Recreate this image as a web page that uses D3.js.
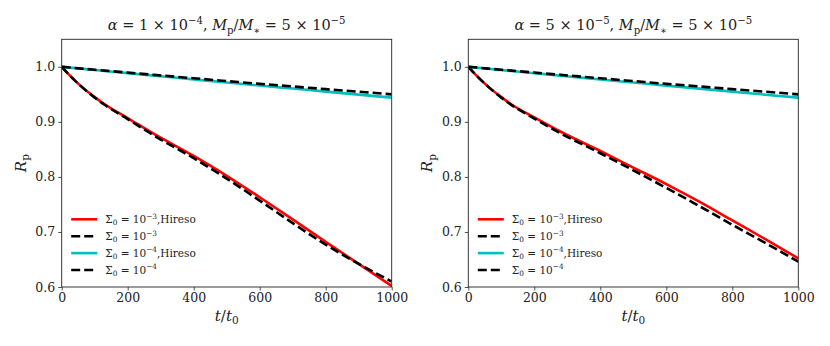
<!DOCTYPE html>
<html>
<head>
<meta charset="utf-8">
<script src="https://cdn.jsdelivr.net/npm/d3@7"></script>
<style>
  body { margin: 0; background: #fff; }
  svg text { font-family: "DejaVu Serif", "Liberation Serif", serif; fill: #222; }
</style>
</head>
<body>
<div id="chart"></div>
<script>
// shared time samples (t / t0)
let times = [0, 25, 60, 100, 130, 200, 280, 400, 500, 600, 700, 800, 900, 1000]

// left panel: alpha = 1e-4
let leftHigh = [1.0, 0.984, 0.964, 0.945, 0.932, 0.907, 0.878, 0.838, 0.802, 0.763, 0.723, 0.682, 0.642, 0.602]
let leftHighLo = [1.0, 0.984, 0.964, 0.944, 0.931, 0.905, 0.875, 0.834, 0.797, 0.757, 0.716, 0.677, 0.642, 0.610]
let leftLow = [1.0, 0.9985, 0.9965, 0.9942, 0.9925, 0.9885, 0.9840, 0.9772, 0.9716, 0.9660, 0.9605, 0.9550, 0.9495, 0.9440]
let leftLowLo = [1.0, 0.9987, 0.9968, 0.9946, 0.9931, 0.9895, 0.9854, 0.9792, 0.9741, 0.9690, 0.9643, 0.9595, 0.9548, 0.9500]

// right panel: alpha = 5e-5
let rightHigh = [1.0, 0.984, 0.964, 0.945, 0.932, 0.908, 0.882, 0.847, 0.817, 0.787, 0.755, 0.721, 0.687, 0.652]
let rightHighLo = [1.0, 0.984, 0.964, 0.944, 0.931, 0.906, 0.879, 0.843, 0.812, 0.780, 0.747, 0.713, 0.680, 0.646]
let rightLow = [1.0, 0.9985, 0.9964, 0.9941, 0.9924, 0.9884, 0.9839, 0.9771, 0.9715, 0.9659, 0.9604, 0.9549, 0.9494, 0.9440]
let rightLowLo = [1.0, 0.9987, 0.9968, 0.9946, 0.9931, 0.9895, 0.9854, 0.9792, 0.9741, 0.9690, 0.9643, 0.9595, 0.9548, 0.9500]

let xTicks = [0, 200, 400, 600, 800, 1000]
let yTicks = [0.6, 0.7, 0.8, 0.9, 1.0]

// legend entries: [exponent, suffix]
let legendLabels = [["-3", ",Hireso"], ["-3", ""], ["-4", ",Hireso"], ["-4", ""]]

let seriesStyle = [
  {color: "#ff0000", dash: null},
  {color: "#000000", dash: "9,4"},
  {color: "#00bfbf", dash: null},
  {color: "#000000", dash: "9,4"}
]

let panels = [
  {left: 61.7, alpha: ["1", "-4"], series: [leftHigh, leftHighLo, leftLow, leftLowLo]},
  {left: 468.3, alpha: ["5", "-5"], series: [rightHigh, rightHighLo, rightLow, rightLowLo]}
]

let width = 830, height = 346
let plotW = 330, plotTop = 39.3, plotBottom = 287
let plotH = plotBottom - plotTop
let serif = "'DejaVu Serif', 'Liberation Serif', serif"

let svg = d3.select("#chart").append("svg")
  .attr("width", width)
  .attr("height", height)

// small helper to write a math-ish label with tspans
// parts: [text, style ('i' italic, 'r' roman), shift]
function mathText(sel, parts, size) {
  sel.style("font-family", serif)
  parts.forEach(p => {
    let ts = sel.append("tspan").text(p[0])
    if (p[1] === "i") ts.style("font-style", "italic")
    if (p[2] === "sup") ts.attr("dy", -size * 0.42).style("font-size", (size * 0.7) + "px")
    if (p[2] === "sub") ts.attr("dy", size * 0.22).style("font-size", (size * 0.7) + "px")
    if (p[2] === "back") ts.attr("dy", size * 0.42)
    if (p[2] === "backsub") ts.attr("dy", -size * 0.22)
  })
}

panels.forEach((panel, pi) => {
  let xScale = d3.scaleLinear().domain([0, 1000]).range([0, plotW])
  let yScale = d3.scaleLinear().domain([0.6, 1.05]).range([plotH, 0])

  let g = svg.append("g").attr("transform", `translate(${panel.left},${plotTop})`)

  let line = d3.line()
    .x((d, i) => xScale(times[i]))
    .y(d => yScale(d))
    .curve(d3.curveMonotoneX)

  g.append("defs").append("clipPath").attr("id", "clip" + pi)
    .append("rect").attr("width", plotW).attr("height", plotH)

  let lines = g.append("g").attr("clip-path", `url(#clip${pi})`)
  // draw order: red, black, cyan, black
  panel.series.forEach((s, i) => {
    lines.append("path")
      .datum(s)
      .attr("d", line)
      .attr("fill", "none")
      .attr("stroke", seriesStyle[i].color)
      .attr("stroke-width", 2.6)
      .attr("stroke-dasharray", seriesStyle[i].dash)
  })

  // axes
  let xAxis = d3.axisBottom(xScale).tickValues(xTicks).tickSize(3.5).tickPadding(3).tickFormat(d3.format("d"))
  let yAxis = d3.axisLeft(yScale).tickValues(yTicks).tickSize(3.5).tickPadding(3).tickFormat(d3.format(".1f"))

  let gx = g.append("g").attr("transform", `translate(0,${plotH})`).call(xAxis)
  let gy = g.append("g").call(yAxis)
  ;[gx, gy].forEach(ax => {
    ax.attr("font-family", null).attr("font-size", null)
    ax.select(".domain").remove()
    ax.selectAll("line").attr("stroke", "#222").attr("stroke-width", 0.8)
    ax.selectAll("text").style("font-family", serif).style("font-size", "12.5px").attr("fill", "#222")
  })

  // frame
  g.append("rect")
    .attr("width", plotW).attr("height", plotH)
    .attr("fill", "none").attr("stroke", "#222").attr("stroke-width", 0.9)

  // title
  let title = g.append("text")
    .attr("x", plotW / 2).attr("y", -9)
    .attr("text-anchor", "middle")
    .style("font-size", "14.5px")
  mathText(title, [
    ["α", "i", null], [" = " + panel.alpha[0] + " × 10", "r", null], ["−" + panel.alpha[1].slice(1), "r", "sup"],
    [", ", "r", "back"], ["M", "i", null], ["p", "r", "sub"], ["/", "r", "backsub"], ["M", "i", null],
    ["∗", "r", "sub"], [" = 5 × 10", "r", "backsub"], ["−5", "r", "sup"]
  ], 14.5)

  // axis labels
  let xl = g.append("text")
    .attr("x", plotW / 2).attr("y", plotH + 34)
    .attr("text-anchor", "middle")
    .style("font-size", "15px")
  mathText(xl, [["t", "i", null], ["/", "r", null], ["t", "i", null], ["0", "r", "sub"]], 15)

  let yl = g.append("text")
    .attr("transform", `translate(-36,${plotH / 2}) rotate(-90)`)
    .attr("text-anchor", "middle")
    .style("font-size", "15px")
  mathText(yl, [["R", "i", null], ["p", "r", "sub"]], 15)

  // legend
  let leg = g.append("g").attr("transform", "translate(9.5,180)")
  legendLabels.forEach((lab, i) => {
    let yy = i * 16.9
    leg.append("line")
      .attr("x1", 0).attr("x2", 26).attr("y1", yy).attr("y2", yy)
      .attr("stroke", seriesStyle[i].color)
      .attr("stroke-width", 2.6)
      .attr("stroke-dasharray", seriesStyle[i].dash)
    let t = leg.append("text")
      .attr("x", 34).attr("y", yy + 3.8)
      .style("font-size", "10.5px")
    mathText(t, [["Σ", "r", null], ["0", "r", "sub"], [" = 10", "r", "backsub"],
      ["−" + lab[0].slice(1), "r", "sup"], [lab[1], "r", "back"]], 10.5)
  })
})
</script>
</body>
</html>
